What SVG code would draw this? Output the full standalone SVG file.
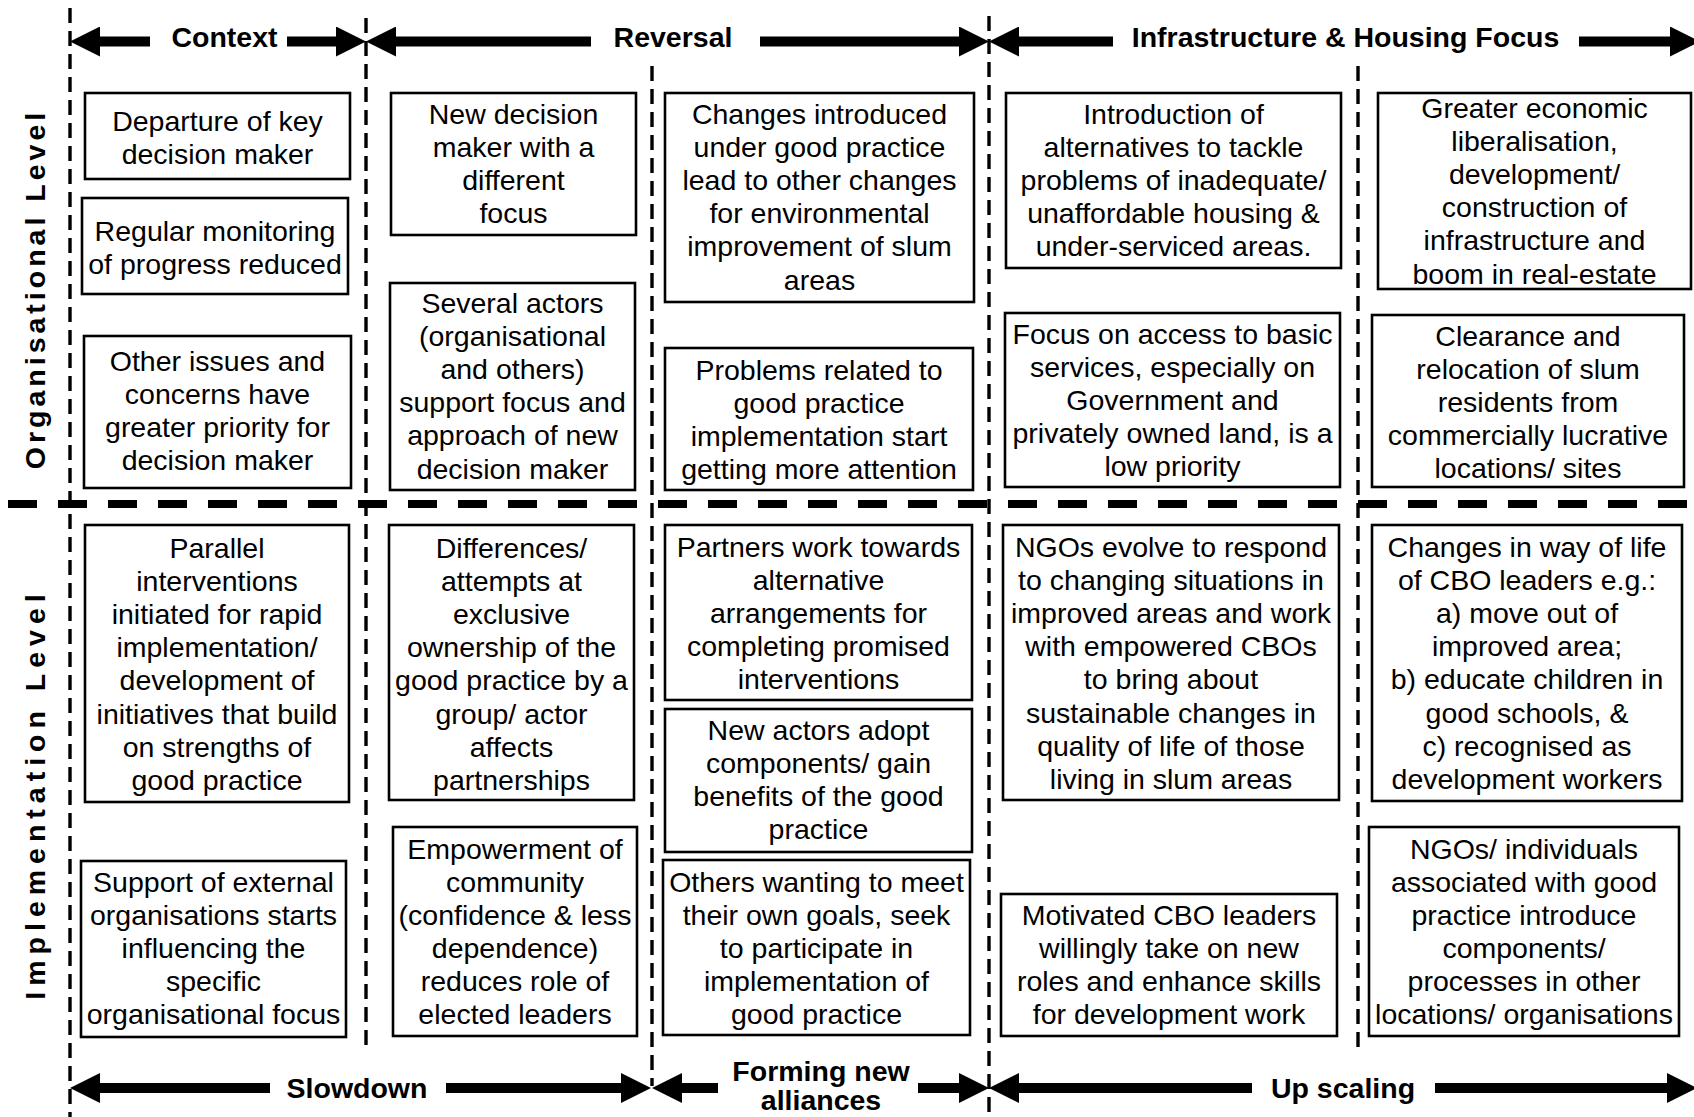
<svg xmlns="http://www.w3.org/2000/svg" width="1694" height="1117" viewBox="0 0 1694 1117">
  <style>
    .bg { fill: #ffffff; }
    .box { fill: #ffffff; stroke: #000000; stroke-width: 2.6; }
    .t { font-family: "Liberation Sans", Arial, sans-serif; font-size: 28.5px; fill: #000000; text-anchor: middle; }
    .hd { font-family: "Liberation Sans", Arial, sans-serif; font-size: 28.5px; font-weight: bold; fill: #000000; text-anchor: middle; }
    .side { font-family: "Liberation Sans", Arial, sans-serif; font-size: 28.5px; font-weight: bold; fill: #000000; text-anchor: middle; }
    .vdash { stroke: #000000; stroke-width: 3.4; stroke-dasharray: 15 8; fill: none; }
    .hdash { stroke: #000000; stroke-width: 8; stroke-dasharray: 29 21; fill: none; }
    .shaft { stroke: #000000; stroke-width: 10; fill: none; marker-end: url(#head); }
  </style>
  <defs>
    <marker id="head" markerUnits="userSpaceOnUse" markerWidth="31" markerHeight="30" refX="0" refY="15" orient="auto" viewBox="0 0 31 30">
      <path d="M0,0 L30,15 L0,30 Z" fill="#000000"/>
    </marker>
  </defs>

  <rect class="bg" x="0" y="0" width="1694" height="1117"/>

  <!-- phase dividers and level divider -->
  <g id="grid">
    <line class="vdash" x1="70" y1="8" x2="70" y2="1117"/>
    <line class="vdash" x1="366" y1="18" x2="366" y2="1050"/>
    <line class="vdash" x1="652" y1="66" x2="652" y2="1086"/>
    <line class="vdash" x1="989" y1="16" x2="989" y2="1117"/>
    <line class="vdash" x1="1358" y1="66" x2="1358" y2="1048"/>
    <line class="hdash" x1="8" y1="504" x2="1694" y2="504"/>
  </g>

  <!-- level labels -->
  <g id="level-labels">
    <text class="side" transform="translate(45,289) rotate(-90)" letter-spacing="4">Organisational Level</text>
    <text class="side" transform="translate(45,794) rotate(-90)" letter-spacing="6">Implementation Level</text>
  </g>

  <!-- phase arrows -->
  <g id="connectors">
    <line class="shaft" x1="150" y1="41.5" x2="100" y2="41.5"/>
    <line class="shaft" x1="287" y1="41.5" x2="336" y2="41.5"/>
    <line class="shaft" x1="591" y1="41.5" x2="396" y2="41.5"/>
    <line class="shaft" x1="760" y1="41.5" x2="959" y2="41.5"/>
    <line class="shaft" x1="1113" y1="41.5" x2="1019" y2="41.5"/>
    <line class="shaft" x1="1579" y1="41.5" x2="1670" y2="41.5"/>

    <line class="shaft" x1="270" y1="1088" x2="100" y2="1088"/>
    <line class="shaft" x1="446" y1="1088" x2="621" y2="1088"/>
    <line class="shaft" x1="718" y1="1088" x2="682" y2="1088"/>
    <line class="shaft" x1="918" y1="1088" x2="959" y2="1088"/>
    <line class="shaft" x1="1252" y1="1088" x2="1019" y2="1088"/>
    <line class="shaft" x1="1435" y1="1088" x2="1667" y2="1088"/>
  </g>

  <!-- phase titles -->
  <g id="phase-titles">
    <text class="hd" x="224.5" y="47">Context</text>
    <text class="hd" x="673" y="47">Reversal</text>
    <text class="hd" x="1345.5" y="47">Infrastructure &amp; Housing Focus</text>
    <text class="hd" x="357" y="1098">Slowdown</text>
    <text class="hd" x="821" y="1081">Forming new</text>
    <text class="hd" x="821" y="1110">alliances</text>
    <text class="hd" x="1343" y="1098">Up scaling</text>
  </g>

  <!-- organisational level: context -->
  <g id="n-departure">
    <rect class="box" x="85" y="93" width="265" height="86"/>
    <text class="t" y="131"><tspan x="217.5">Departure of key</tspan><tspan x="217.5" dy="33.1">decision maker</tspan></text>
  </g>
  <g id="n-monitoring">
    <rect class="box" x="82" y="198" width="266" height="96"/>
    <text class="t" y="241"><tspan x="215">Regular monitoring</tspan><tspan x="215" dy="33.1">of progress reduced</tspan></text>
  </g>
  <g id="n-other-issues">
    <rect class="box" x="84" y="336" width="267" height="152"/>
    <text class="t" y="371"><tspan x="217.5">Other issues and</tspan><tspan x="217.5" dy="33.1">concerns have</tspan><tspan x="217.5" dy="33.1">greater priority for</tspan><tspan x="217.5" dy="33.1">decision maker</tspan></text>
  </g>

  <!-- organisational level: reversal -->
  <g id="n-new-decision-maker">
    <rect class="box" x="391" y="93" width="245" height="142"/>
    <text class="t" y="124"><tspan x="513.5">New decision</tspan><tspan x="513.5" dy="33.1">maker with a</tspan><tspan x="513.5" dy="33.1">different</tspan><tspan x="513.5" dy="33.1">focus</tspan></text>
  </g>
  <g id="n-several-actors">
    <rect class="box" x="390" y="283" width="245" height="207"/>
    <text class="t" y="313"><tspan x="512.5">Several actors</tspan><tspan x="512.5" dy="33.1">(organisational</tspan><tspan x="512.5" dy="33.1">and others)</tspan><tspan x="512.5" dy="33.1">support focus and</tspan><tspan x="512.5" dy="33.1">approach of new</tspan><tspan x="512.5" dy="33.1">decision maker</tspan></text>
  </g>
  <g id="n-changes-introduced">
    <rect class="box" x="665" y="93" width="309" height="209"/>
    <text class="t" y="124"><tspan x="819.5">Changes introduced</tspan><tspan x="819.5" dy="33.1">under good practice</tspan><tspan x="819.5" dy="33.1">lead to other changes</tspan><tspan x="819.5" dy="33.1">for environmental</tspan><tspan x="819.5" dy="33.1">improvement of slum</tspan><tspan x="819.5" dy="33.1">areas</tspan></text>
  </g>
  <g id="n-problems">
    <rect class="box" x="665" y="348" width="308" height="142"/>
    <text class="t" y="380"><tspan x="819">Problems related to</tspan><tspan x="819" dy="33.1">good practice</tspan><tspan x="819" dy="33.1">implementation start</tspan><tspan x="819" dy="33.1">getting more attention</tspan></text>
  </g>

  <!-- organisational level: infrastructure & housing focus -->
  <g id="n-alternatives">
    <rect class="box" x="1006" y="93" width="335" height="175"/>
    <text class="t" y="124"><tspan x="1173.5">Introduction of</tspan><tspan x="1173.5" dy="33.1">alternatives to tackle</tspan><tspan x="1173.5" dy="33.1">problems of inadequate/</tspan><tspan x="1173.5" dy="33.1">unaffordable housing &amp;</tspan><tspan x="1173.5" dy="33.1">under-serviced areas.</tspan></text>
  </g>
  <g id="n-basic-services">
    <rect class="box" x="1005" y="313" width="335" height="174"/>
    <text class="t" y="344"><tspan x="1172.5">Focus on access to basic</tspan><tspan x="1172.5" dy="33.1">services, especially on</tspan><tspan x="1172.5" dy="33.1">Government and</tspan><tspan x="1172.5" dy="33.1">privately owned land, is a</tspan><tspan x="1172.5" dy="33.1">low priority</tspan></text>
  </g>
  <g id="n-liberalisation">
    <rect class="box" x="1378" y="93" width="313" height="196"/>
    <text class="t" y="118"><tspan x="1534.5">Greater economic</tspan><tspan x="1534.5" dy="33.1">liberalisation,</tspan><tspan x="1534.5" dy="33.1">development/</tspan><tspan x="1534.5" dy="33.1">construction of</tspan><tspan x="1534.5" dy="33.1">infrastructure and</tspan><tspan x="1534.5" dy="33.1">boom in real-estate</tspan></text>
  </g>
  <g id="n-clearance">
    <rect class="box" x="1372" y="315" width="312" height="172"/>
    <text class="t" y="345.5"><tspan x="1528">Clearance and</tspan><tspan x="1528" dy="33.1">relocation of slum</tspan><tspan x="1528" dy="33.1">residents from</tspan><tspan x="1528" dy="33.1">commercially lucrative</tspan><tspan x="1528" dy="33.1">locations/ sites</tspan></text>
  </g>

  <!-- implementation level: slowdown -->
  <g id="n-parallel">
    <rect class="box" x="85" y="525" width="264" height="277"/>
    <text class="t" y="558"><tspan x="217">Parallel</tspan><tspan x="217" dy="33.1">interventions</tspan><tspan x="217" dy="33.1">initiated for rapid</tspan><tspan x="217" dy="33.1">implementation/</tspan><tspan x="217" dy="33.1">development of</tspan><tspan x="217" dy="33.1">initiatives that build</tspan><tspan x="217" dy="33.1">on strengths of</tspan><tspan x="217" dy="33.1">good practice</tspan></text>
  </g>
  <g id="n-external-support">
    <rect class="box" x="81" y="861" width="265" height="176"/>
    <text class="t" y="892"><tspan x="213.5">Support of external</tspan><tspan x="213.5" dy="33.1">organisations starts</tspan><tspan x="213.5" dy="33.1">influencing the</tspan><tspan x="213.5" dy="33.1">specific</tspan><tspan x="213.5" dy="33.1">organisational focus</tspan></text>
  </g>
  <g id="n-differences">
    <rect class="box" x="389" y="525" width="245" height="275"/>
    <text class="t" y="558"><tspan x="511.5">Differences/</tspan><tspan x="511.5" dy="33.1">attempts at</tspan><tspan x="511.5" dy="33.1">exclusive</tspan><tspan x="511.5" dy="33.1">ownership of the</tspan><tspan x="511.5" dy="33.1">good practice by a</tspan><tspan x="511.5" dy="33.1">group/ actor</tspan><tspan x="511.5" dy="33.1">affects</tspan><tspan x="511.5" dy="33.1">partnerships</tspan></text>
  </g>
  <g id="n-empowerment">
    <rect class="box" x="393" y="827" width="244" height="209"/>
    <text class="t" y="858.5"><tspan x="515">Empowerment of</tspan><tspan x="515" dy="33.1">community</tspan><tspan x="515" dy="33.1">(confidence &amp; less</tspan><tspan x="515" dy="33.1">dependence)</tspan><tspan x="515" dy="33.1">reduces role of</tspan><tspan x="515" dy="33.1">elected leaders</tspan></text>
  </g>

  <!-- implementation level: forming new alliances -->
  <g id="n-partners">
    <rect class="box" x="665" y="525" width="307" height="175"/>
    <text class="t" y="557"><tspan x="818.5">Partners work towards</tspan><tspan x="818.5" dy="33.1">alternative</tspan><tspan x="818.5" dy="33.1">arrangements for</tspan><tspan x="818.5" dy="33.1">completing promised</tspan><tspan x="818.5" dy="33.1">interventions</tspan></text>
  </g>
  <g id="n-new-actors">
    <rect class="box" x="665" y="709" width="307" height="143"/>
    <text class="t" y="740"><tspan x="818.5">New actors adopt</tspan><tspan x="818.5" dy="33.1">components/ gain</tspan><tspan x="818.5" dy="33.1">benefits of the good</tspan><tspan x="818.5" dy="33.1">practice</tspan></text>
  </g>
  <g id="n-others-wanting">
    <rect class="box" x="663" y="860" width="307" height="175"/>
    <text class="t" y="891.5"><tspan x="816.5">Others wanting to meet</tspan><tspan x="816.5" dy="33.1">their own goals, seek</tspan><tspan x="816.5" dy="33.1">to participate in</tspan><tspan x="816.5" dy="33.1">implementation of</tspan><tspan x="816.5" dy="33.1">good practice</tspan></text>
  </g>

  <!-- implementation level: up scaling -->
  <g id="n-ngos-evolve">
    <rect class="box" x="1003" y="525" width="336" height="275"/>
    <text class="t" y="557"><tspan x="1171">NGOs evolve to respond</tspan><tspan x="1171" dy="33.1">to changing situations in</tspan><tspan x="1171" dy="33.1">improved areas and work</tspan><tspan x="1171" dy="33.1">with empowered CBOs</tspan><tspan x="1171" dy="33.1">to bring about</tspan><tspan x="1171" dy="33.1">sustainable changes in</tspan><tspan x="1171" dy="33.1">quality of life of those</tspan><tspan x="1171" dy="33.1">living in slum areas</tspan></text>
  </g>
  <g id="n-motivated-leaders">
    <rect class="box" x="1001" y="894" width="336" height="142"/>
    <text class="t" y="925"><tspan x="1169">Motivated CBO leaders</tspan><tspan x="1169" dy="33.1">willingly take on new</tspan><tspan x="1169" dy="33.1">roles and enhance skills</tspan><tspan x="1169" dy="33.1">for development work</tspan></text>
  </g>
  <g id="n-way-of-life">
    <rect class="box" x="1372" y="525" width="310" height="276"/>
    <text class="t" y="557"><tspan x="1527">Changes in way of life</tspan><tspan x="1527" dy="33.1">of CBO leaders e.g.:</tspan><tspan x="1527" dy="33.1">a) move out of</tspan><tspan x="1527" dy="33.1">improved area;</tspan><tspan x="1527" dy="33.1">b) educate children in</tspan><tspan x="1527" dy="33.1">good schools, &amp;</tspan><tspan x="1527" dy="33.1">c) recognised as</tspan><tspan x="1527" dy="33.1">development workers</tspan></text>
  </g>
  <g id="n-ngos-individuals">
    <rect class="box" x="1369" y="827" width="310" height="209"/>
    <text class="t" y="858.5"><tspan x="1524">NGOs/ individuals</tspan><tspan x="1524" dy="33.1">associated with good</tspan><tspan x="1524" dy="33.1">practice introduce</tspan><tspan x="1524" dy="33.1">components/</tspan><tspan x="1524" dy="33.1">processes in other</tspan><tspan x="1524" dy="33.1">locations/ organisations</tspan></text>
  </g>
</svg>
